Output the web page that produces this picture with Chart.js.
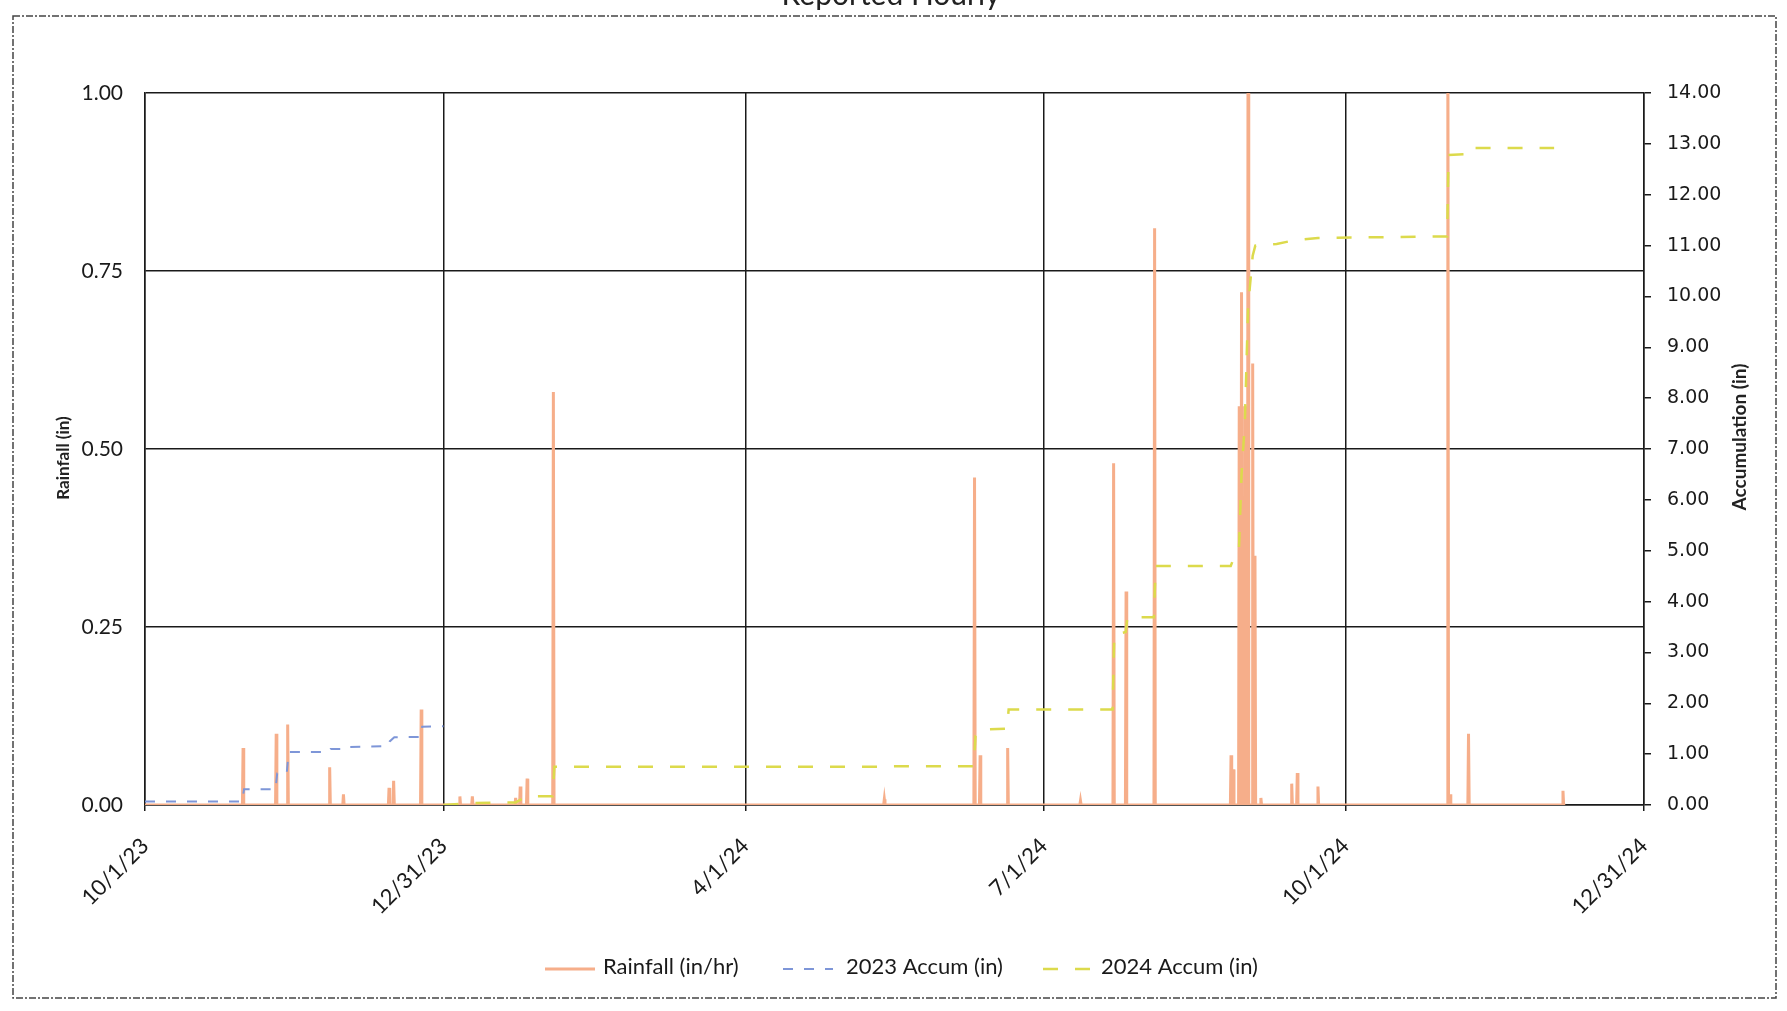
<!DOCTYPE html>
<html>
<head>
<meta charset="utf-8">
<title>Reported Hourly</title>
<script src="https://cdn.jsdelivr.net/npm/chart.js@4.4.1/dist/chart.umd.min.js"></script>
<style>
    html, body { margin: 0; padding: 0; background: #fff; }
    #wrap { position: relative; width: 1787px; height: 1011px; }
</style>
</head>
<body>
<div id="wrap"><canvas id="rainChart"></canvas></div>
<script>
// x axis is counted in days since 10/1/23
const xTickDays = [0, 91, 183, 274, 366, 457];
const xTickLabels = ['10/1/23', '12/31/23', '4/1/24', '7/1/24', '10/1/24', '12/31/24'];

const seriesLabels = ['Rainfall (in/hr)', '2023 Accum (in)', '2024 Accum (in)'];
const seriesColors = ['#F6AE8A', '#7E96D8', '#DCDA4C'];

// hourly rainfall peaks (in/hr), zero between them
const rainDays = [29.9, 40.0, 43.5, 56.3, 60.5, 74.4, 75.8, 84.2, 96.0, 99.8, 113.0, 114.4, 116.5,
    124.5, 225.4, 252.9, 254.6, 263.0, 285.2, 295.3, 299.1, 307.8, 331.1, 331.8, 333.6, 334.3,
    335.3, 336.3, 337.7, 338.4, 340.2, 349.6, 351.3, 357.6, 397.2, 397.9, 403.5, 432.3];
const rainValues = [0.08, 0.10, 0.113, 0.053, 0.015, 0.024, 0.034, 0.134, 0.012, 0.012, 0.01, 0.026, 0.037,
    0.58, 0.008, 0.46, 0.07, 0.08, 0.006, 0.48, 0.30, 0.81, 0.07, 0.05, 0.56, 0.72,
    0.56, 1.2, 0.62, 0.35, 0.01, 0.03, 0.045, 0.026, 1.2, 0.015, 0.10, 0.02];
const rainEndDay = 433;

// 2023 accumulation (in)
const accDays2023 = [0, 29.6, 30.2, 39.8, 40.3, 43.2, 43.8, 56, 56.6, 60.3, 60.8, 74, 74.6, 76, 84, 84.5, 91];
const accValues2023 = [0.07, 0.07, 0.31, 0.31, 0.62, 0.62, 1.04, 1.04, 1.10, 1.10, 1.14, 1.16, 1.25, 1.33, 1.34, 1.54, 1.55];

// 2024 accumulation (in)
const accDays2024 = [91, 96, 100, 113, 114.4, 116.6, 124.3, 124.8, 225, 225.5, 252.7, 253.2, 254.6, 262.8,
    263.3, 295, 295.5, 299, 299.5, 307.6, 308.1, 331, 331.8, 333.5, 334.3, 335.3, 336.3, 337.7, 338.5,
    345, 350, 357.6, 397, 397.4, 403.3, 403.7, 429.6];
const accValues2024 = [0, 0.02, 0.04, 0.05, 0.10, 0.17, 0.17, 0.75, 0.75, 0.76, 0.76, 1.36, 1.48, 1.50,
    1.88, 1.88, 3.35, 3.40, 3.69, 3.69, 4.70, 4.70, 4.83, 5.0, 6.5, 7.5, 9.8, 10.8, 11.0,
    11.03, 11.10, 11.15, 11.18, 12.78, 12.80, 12.92, 12.92];

function pairPoints(days, values) {
    return days.map((d, i) => ({ x: d, y: values[i] }));
}

function buildRainPoints() {
    const pts = [{ x: 0, y: 0 }];
    rainDays.forEach((d, i) => {
        pts.push({ x: d - 0.2, y: 0 }, { x: d, y: rainValues[i] }, { x: d + 0.2, y: 0 });
    });
    pts.push({ x: rainEndDay, y: 0 });
    return pts;
}

const GRID = '#1a1a1a';
const CHART_TOP = 93;
const CHART_BOTTOM = 805;
const CHART_LEFT = 145;
const CHART_RIGHT = 1644;

// frame, cut-off title, axis titles and the legend
const decorPlugin = {
    id: 'decor',
    afterDraw(chart) {
        const ctx = chart.ctx;
        ctx.save();

        ctx.strokeStyle = '#444';
        ctx.lineWidth = 1.5;
        ctx.setLineDash([7, 2, 2, 2]);
        ctx.strokeRect(13, 16, 1763, 982);
        ctx.setLineDash([]);

        ctx.fillStyle = '#222';
        ctx.font = '30px Lato';
        ctx.textAlign = 'center';
        ctx.textBaseline = 'alphabetic';
        ctx.fillText('Reported Hourly', 891, 5);

        ctx.font = 'bold 17px Lato';
        ctx.textBaseline = 'middle';
        ctx.save();
        ctx.translate(64, 458);
        ctx.rotate(-Math.PI / 2);
        ctx.fillText('Rainfall (in)', 0, 0);
        ctx.restore();

        ctx.font = 'bold 19px Lato';
        ctx.save();
        ctx.translate(1740, 437);
        ctx.rotate(-Math.PI / 2);
        ctx.fillText('Accumulation (in)', 0, 0);
        ctx.restore();

        // legend
        const sampleX = [545, 783, 1043];
        const textX = [603, 846, 1101];
        const legendY = 967;
        ctx.font = '22px Lato';
        ctx.textAlign = 'left';
        chart.data.datasets.forEach((ds, i) => {
            ctx.strokeStyle = ds.borderColor;
            ctx.lineWidth = ds.borderWidth;
            ctx.setLineDash(ds.borderDash || []);
            ctx.beginPath();
            ctx.moveTo(sampleX[i], legendY + 2);
            ctx.lineTo(sampleX[i] + 50, legendY + 2);
            ctx.stroke();
            ctx.setLineDash([]);
            ctx.fillStyle = '#1a1a1a';
            ctx.fillText(ds.label, textX[i], legendY);
        });

        ctx.restore();
    }
};

const ctx = document.getElementById('rainChart');
new Chart(ctx, {
    type: 'line',
    data: {
        datasets: [
            {
                label: seriesLabels[0],
                data: buildRainPoints(),
                borderColor: seriesColors[0],
                borderWidth: 3,
                pointRadius: 0,
                tension: 0,
                yAxisID: 'y',
                order: 3
            },
            {
                label: seriesLabels[1],
                data: pairPoints(accDays2023, accValues2023),
                borderColor: seriesColors[1],
                borderWidth: 2,
                borderDash: [10, 11],
                pointRadius: 0,
                tension: 0,
                yAxisID: 'y1',
                order: 1
            },
            {
                label: seriesLabels[2],
                data: pairPoints(accDays2024, accValues2024),
                borderColor: seriesColors[2],
                borderWidth: 2.5,
                borderDash: [15, 17],
                pointRadius: 0,
                tension: 0,
                yAxisID: 'y1',
                order: 2
            }
        ]
    },
    options: {
        responsive: true,
        maintainAspectRatio: false,
        animation: false,
        layout: {
            padding: { top: CHART_TOP, left: 0, right: 0, bottom: 0 }
        },
        plugins: {
            legend: { display: false },
            tooltip: { enabled: false },
            title: { display: false }
        },
        scales: {
            x: {
                type: 'linear',
                min: xTickDays[0],
                max: xTickDays[xTickDays.length - 1],
                afterBuildTicks: (scale) => {
                    scale.ticks = xTickDays.map(v => ({ value: v }));
                },
                afterFit: (scale) => {
                    scale.height = 1011 - CHART_BOTTOM;
                },
                ticks: {
                    autoSkip: false,
                    minRotation: 45,
                    maxRotation: 45,
                    padding: 22,
                    color: '#1a1a1a',
                    font: { family: 'Lato', size: 22 },
                    callback: (value) => {
                        const i = xTickDays.indexOf(value);
                        return i >= 0 ? xTickLabels[i] : '';
                    }
                },
                grid: {
                    color: GRID,
                    lineWidth: 1.5,
                    tickLength: 6
                },
                border: { color: GRID, width: 1.5 }
            },
            y: {
                position: 'left',
                min: 0,
                max: 1,
                afterFit: (scale) => {
                    scale.width = CHART_LEFT;
                },
                ticks: {
                    stepSize: 0.25,
                    padding: 22,
                    color: '#1a1a1a',
                    font: { family: 'Lato', size: 21 },
                    callback: (v) => v.toFixed(2)
                },
                grid: {
                    color: GRID,
                    lineWidth: 1.5,
                    drawTicks: false
                },
                border: { color: GRID, width: 1.5 }
            },
            y1: {
                position: 'right',
                min: 0,
                max: 14,
                afterFit: (scale) => {
                    scale.width = 1787 - CHART_RIGHT;
                },
                ticks: {
                    stepSize: 1,
                    padding: 16,
                    color: '#1a1a1a',
                    font: { family: 'DejaVu Sans', size: 19 },
                    callback: (v) => v.toFixed(2)
                },
                grid: {
                    drawOnChartArea: false,
                    color: GRID,
                    lineWidth: 1.5,
                    tickLength: 7
                },
                border: { color: GRID, width: 1.5 }
            }
        }
    },
    plugins: [decorPlugin]
});
</script>
</body>
</html>
